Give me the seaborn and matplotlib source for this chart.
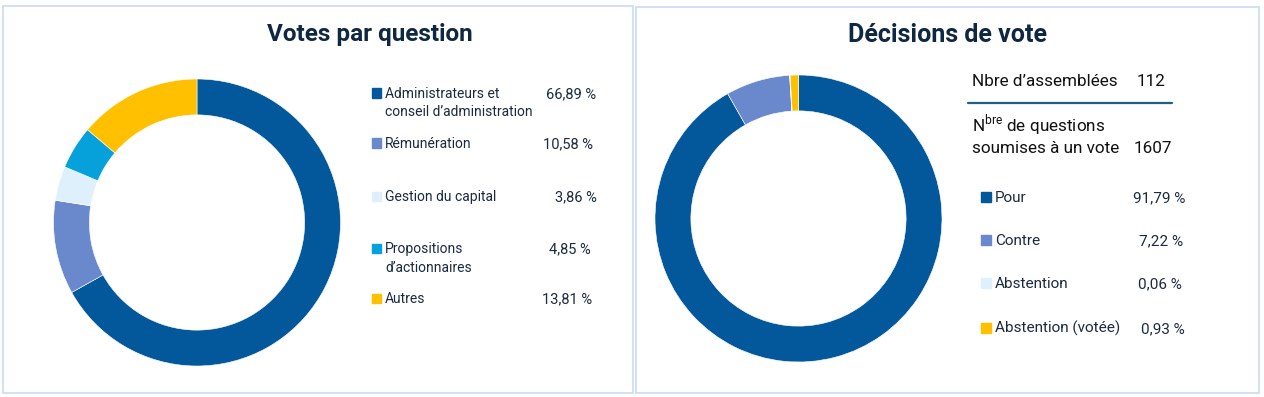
import matplotlib
matplotlib.use("Agg")
import matplotlib.pyplot as plt
from matplotlib.patches import Rectangle
import seaborn as sns

# -----------------------------
# Data
# -----------------------------
question_labels = ["Administrateurs et\nconseil d\u2019administration", "R\u00e9mun\u00e9ration",
                   "Gestion du capital", "Propositions\nd\u2019actionnaires", "Autres"]
question_shares = [66.89, 10.58, 3.86, 4.85, 13.81]

decision_labels = ["Pour", "Contre", "Abstention", "Abstention (vot\u00e9e)"]
decision_shares = [91.79, 7.22, 0.06, 0.93]

n_assemblies = 112
n_questions = 1607

# -----------------------------
# Style
# -----------------------------
sns.set_theme(style="white")
plt.rcParams["font.family"] = ["Roboto", "DejaVu Sans"]
plt.rcParams["mathtext.fontset"] = "custom"
plt.rcParams["mathtext.rm"] = "Roboto"

palette = sns.color_palette(["#02589A", "#6A89CC", "#DDF0FC", "#06A0DA", "#FFC000"])
dec_palette = [palette[0], palette[1], palette[2], palette[4]]
title_col = "#0E2841"
text_col = "#1B2A41"
border_col = "#C9DDF2"

W, H = 1264, 397
fig = plt.figure(figsize=(W / 100, H / 100), dpi=100)


def fx(x):
    return x / W


def fy(y):
    return 1 - y / H


def pct(v):
    return f"{v:.2f}".replace(".", ",") + " %"


# panel borders
for x0, y0, x1, y1 in [(3, 6, 633, 393), (636, 7, 1259, 393)]:
    fig.patches.append(Rectangle((fx(x0), fy(y1)), fx(x1 - x0), (y1 - y0) / H,
                                 transform=fig.transFigure, fill=False,
                                 edgecolor=border_col, linewidth=1.2))


def donut(cx, cy, r, values, colors):
    ax = fig.add_axes([fx(cx - r), fy(cy + r), 2 * r / W, 2 * r / H])
    ax.pie(values, colors=colors, startangle=90, counterclock=False, radius=1,
           wedgeprops=dict(width=0.25, edgecolor="white", linewidth=0.4))
    ax.set_xlim(-1, 1)
    ax.set_ylim(-1, 1)
    ax.set_axis_off()
    return ax


# -----------------------------
# Left panel: Votes par question
# -----------------------------
fig.text(fx(370), fy(35), "Votes par question", ha="center", va="center",
         fontsize=17.5, fontweight="bold", color=title_col)
donut(197, 222.5, 143.5, question_shares, palette)

q_rows = [93, 143, 196, 248, 298]
q_pct_x = [546, 543, 555, 549, 542]
for i, (lab, v) in enumerate(zip(question_labels, question_shares)):
    y = q_rows[i]
    fig.patches.append(Rectangle((fx(372), fy(y + 4.5)), 9 / W, 9 / H,
                                 transform=fig.transFigure, color=palette[i]))
    for k, line in enumerate(lab.split("\n")):
        fig.text(fx(385), fy(y + 5 + 18.5 * k), line, ha="left", va="baseline",
                 fontsize=10, color=text_col)
    fig.text(fx(q_pct_x[i]), fy(y + 5), pct(v), ha="left", va="baseline",
             fontsize=10.5, color=text_col)

# -----------------------------
# Right panel: Décisions de vote
# -----------------------------
fig.text(fx(947), fy(35), "D\u00e9cisions de vote", ha="center", va="center",
         fontsize=18, fontweight="bold", color=title_col)
donut(798.5, 218.5, 143.5, decision_shares, dec_palette)

fig.text(fx(972), fy(86), "Nbre d\u2019assembl\u00e9es", ha="left", va="baseline",
         fontsize=12.3, color="#111111")
fig.text(fx(1137), fy(86), str(n_assemblies), ha="left", va="baseline",
         fontsize=12.3, color="#111111")
fig.add_artist(plt.Line2D([fx(968), fx(1172)], [fy(103), fy(103)],
                          color="#1F5F85", linewidth=1.6))
fig.text(fx(972), fy(131), r"N$^{\mathrm{bre}}$ de questions", ha="left", va="baseline",
         fontsize=12.3, color="#111111")
fig.text(fx(972), fy(153), "soumises \u00e0 un vote", ha="left", va="baseline",
         fontsize=12.3, color="#111111")
fig.text(fx(1134), fy(153), str(n_questions), ha="left", va="baseline",
         fontsize=12.3, color="#111111")

d_rows = [197, 240, 283, 328]
d_pct_x = [1133, 1139, 1138, 1141]
for i, (lab, v) in enumerate(zip(decision_labels, decision_shares)):
    y = d_rows[i]
    fig.patches.append(Rectangle((fx(981), fy(y + 5)), 10 / W, 10 / H,
                                 transform=fig.transFigure, color=dec_palette[i]))
    fig.text(fx(995), fy(y + 5), lab, ha="left", va="baseline", fontsize=11, color=text_col)
    fig.text(fx(d_pct_x[i]), fy(y + 5), pct(v), ha="left", va="baseline",
             fontsize=11, color=text_col)

fig.savefig("out.png", dpi=100)
